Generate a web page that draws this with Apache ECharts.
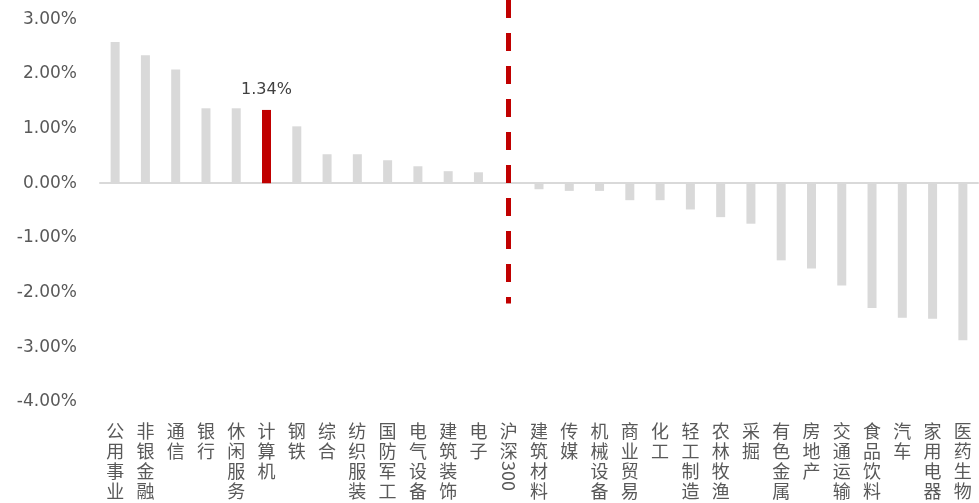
<!DOCTYPE html>
<html>
<head>
<meta charset="utf-8">
<script src="https://cdn.jsdelivr.net/npm/echarts@6/dist/echarts.min.js"></script>
<style>
    html, body { margin: 0; padding: 0; background: #fff; }
    #chart { width: 979px; height: 503px; }
</style>
</head>
<body>
<div id="chart"></div>
<script>
    // 行业涨跌幅（%）
    var categories = ['公用事业', '非银金融', '通信', '银行', '休闲服务', '计算机', '钢铁', '综合', '纺织服装', '国防军工',
        '电气设备', '建筑装饰', '电子', '沪深300', '建筑材料', '传媒', '机械设备', '商业贸易', '化工', '轻工制造',
        '农林牧渔', '采掘', '有色金属', '房地产', '交通运输', '食品饮料', '汽车', '家用电器', '医药生物'];
    var values = [2.58, 2.34, 2.08, 1.37, 1.37, 1.34, 1.04, 0.53, 0.53, 0.42,
        0.31, 0.22, 0.20, null, -0.11, -0.14, -0.14, -0.31, -0.31, -0.48,
        -0.62, -0.74, -1.41, -1.56, -1.87, -2.28, -2.46, -2.48, -2.87];
    var highlight = '计算机';
    var benchmark = '沪深300';
    var benchmarkSpan = [3.35, -2.2];
    var yTicks = [-4, 3.35, 1];   // min, max, interval

    var chart = echarts.init(document.getElementById('chart'));

    var barData = values.map(function (v, i) {
        if (categories[i] === highlight) {
            return {
                value: v,
                itemStyle: { color: '#C00000' },
                label: {
                    show: true,
                    position: 'top',
                    distance: 12,
                    formatter: v.toFixed(2) + '%',
                    fontFamily: 'DejaVu Sans',
                    fontSize: 16,
                    color: '#404040'
                }
            };
        }
        return v;
    });

    chart.setOption({
        animation: false,
        grid: { left: 100, right: 1, top: 0, bottom: 101 },
        xAxis: [
            {
                type: 'category',
                data: categories,
                axisLine: { onZero: true, lineStyle: { color: '#d9d9d9', width: 2 } },
                axisTick: { show: false },
                axisLabel: { show: false }
            },
            {
                type: 'category',
                data: categories,
                position: 'bottom',
                axisLine: { show: false, onZero: false },
                axisTick: { show: false },
                axisLabel: {
                    interval: 0,
                    margin: 19,
                    fontFamily: 'Noto Sans CJK SC',
                    fontSize: 18,
                    lineHeight: 20,
                    color: '#595959',
                    formatter: function (v) {
                        if (v === benchmark) return '沪\n深';
                        return v.split('').join('\n');
                    }
                }
            },
            {
                type: 'category',
                data: categories,
                position: 'bottom',
                axisLine: { show: false, onZero: false },
                axisTick: { show: false },
                axisLabel: {
                    interval: 0,
                    rotate: -90,
                    margin: 59,
                    fontFamily: 'Noto Sans CJK SC',
                    fontSize: 18,
                    color: '#595959',
                    formatter: function (v) {
                        return v === benchmark ? '300' : '';
                    }
                }
            }
        ],
        yAxis: {
            type: 'value',
            min: yTicks[0],
            max: yTicks[1],
            interval: yTicks[2],
            axisLine: { show: false },
            axisTick: { show: false },
            splitLine: { show: false },
            axisLabel: {
                showMaxLabel: false,
                margin: 23,
                fontFamily: 'DejaVu Sans',
                fontSize: 17,
                color: '#595959',
                formatter: function (v) { return v.toFixed(2) + '%'; }
            }
        },
        series: [{
            type: 'bar',
            xAxisIndex: 0,
            data: barData,
            barWidth: 9,
            itemStyle: { color: '#d9d9d9' },
            markLine: {
                silent: true,
                symbol: 'none',
                label: { show: false },
                lineStyle: { color: '#C00000', width: 5, type: [18, 15] },
                data: [[
                    { coord: [benchmark, benchmarkSpan[0]] },
                    { coord: [benchmark, benchmarkSpan[1]] }
                ]]
            }
        }]
    });
</script>
</body>
</html>
